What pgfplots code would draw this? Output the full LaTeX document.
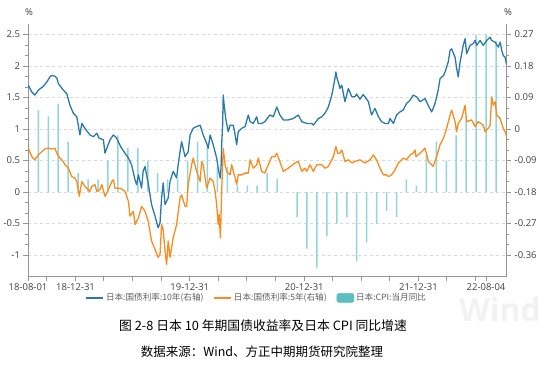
\documentclass[border=0pt]{standalone}
\usepackage{pgfplots}
\pgfplotsset{compat=1.18}
\usepackage{fontspec}
\setmainfont{Open Sans}
\newfontfamily\cjk{Noto Sans CJK SC}
\definecolor{jblue}{RGB}{41,121,171}
\definecolor{jorange}{RGB}{250,140,30}
\definecolor{jteal}{RGB}{145,213,216}
\definecolor{jtealleg}{RGB}{92,191,194}
\definecolor{axgray}{RGB}{150,150,150}
\definecolor{txtgray}{RGB}{64,64,64}
\pgfplotsset{
  base/.style={scale only axis, width=478.7pt, height=252pt, at={(0pt,0pt)}, anchor=south west,
    xmin=0, xmax=1530,
    tick align=outside, major tick length=4.5pt, minor tick length=2.5pt,
    every tick/.style={axgray, line width=0.6pt},
    axis line style={axgray, line width=0.8pt},
    ticklabel style={font=\fontsize{9.5}{10}\selectfont, text=txtgray},
    /pgf/number format/assume math mode=true,
  }
}
\begin{document}
\begin{tikzpicture}
\useasboundingbox (-28pt,-94pt) rectangle (518pt,276pt);
\node[text=gray!10, font=\fontsize{32}{32}\selectfont\bfseries, inner sep=0pt] at (472pt,-33pt) {Wind};
% left axis: CPI bars
\begin{axis}[base,
  axis x line*=bottom, axis y line*=left,
  ymin=-1.3333333, ymax=2.6666667,
  ytick={-1,-0.5,0,0.5,1,1.5,2,2.5},
  minor y tick num=2,
  ymajorgrids, grid style={gray!30, dash pattern=on 3pt off 3pt, line width=0.5pt},
  xtick={0,152,517,883,1248,1464},
  xticklabels={18-08-01,18-12-31,19-12-31,20-12-31,21-12-31,22-08-04},
  extra x ticks={60,242,333,425,608,699,791,973,1064,1156,1338,1429},
  extra x tick labels={},
  yticklabel style={/pgf/number format/fixed},
]
\addplot[ybar, bar width=1.5pt, bar shift=0pt, fill=jteal, draw=none] coordinates {
(33,1.3)(64.8,1.2)(96.6,1.4)(128.4,0.8)(160.2,0.3)(192,0.2)(223.8,0.2)(255.6,0.5)
(287.4,0.9)(319.2,0.7)(351,0.7)(382.8,0.5)(414.6,0.3)(446.4,0.2)(478.2,0.2)(510,0.5)
(541.8,0.8)(573.6,0.7)(605.4,0.4)(637.2,0.4)(669,0.1)(700.8,0.1)(732.6,0.1)(764.4,0.3)
(796.2,0.2)(828,0.0)(859.8,-0.4)(891.6,-0.9)(923.4,-1.2)(955.2,-0.7)(987,-0.5)(1018.8,-0.4)
(1050.6,-1.1)(1082.4,-0.8)(1114.2,-0.5)(1146,-0.3)(1177.8,-0.4)(1209.6,0.2)(1241.4,0.1)(1273.2,0.6)
(1305,0.8)(1336.8,0.5)(1368.6,0.9)(1400.4,1.2)(1432.2,2.5)(1464,2.5)(1495.8,2.4)
};
\end{axis}
% right axis: yields
\begin{axis}[base,
  axis x line=none, axis y line*=right,
  ymin=-0.42, ymax=0.30,
  ytick={-0.36,-0.27,-0.18,-0.09,0,0.09,0.18,0.27},
  minor y tick num=2,
  yticklabel style={/pgf/number format/.cd, fixed, precision=2},
  legend style={at={(0.478,-0.087)}, anchor=center, draw=none, fill=none,
    legend columns=3, font=\cjk\fontsize{8.6}{10}\selectfont, text=txtgray!85,
    /tikz/every even column/.append style={column sep=8pt}},
  legend cell align=left,
]
\addplot[jblue, line width=1.3pt, line join=round, no marks] coordinates {
(1,0.125)(12,0.106)(22,0.097)(33,0.111)(49,0.122)(60,0.134)(70,0.149)(76,0.153)(86,0.151)(92,0.146)(97,0.130)(113,0.111)(124,0.101)(134,0.068)(145,0.045)(156,0.035)(166,-0.017)(172,0.016)(182,0.002)(198,-0.017)(209,-0.022)(220,-0.012)(227,-0.026)(241,-0.031)(246,-0.069)(262,-0.031)(273,-0.017)(283,-0.026)(299,-0.055)(310,-0.069)(321,-0.083)(331,-0.102)(342,-0.145)(347,-0.159)(353,-0.131)(363,-0.169)(368,-0.121)(374,-0.107)(384,-0.154)(395,-0.216)(406,-0.249)(416,-0.282)(422,-0.268)(427,-0.197)(432,-0.154)(438,-0.216)(448,-0.197)(454,-0.150)(464,-0.121)(475,-0.140)(480,-0.102)(486,-0.065)(491,-0.036)(502,-0.079)(512,-0.065)(518,-0.017)(528,0.002)(539,0.007)(550,0.011)(560,-0.017)(571,-0.041)(576,-0.055)(582,-0.017)(592,-0.045)(603,-0.083)(608,-0.112)(614,-0.140)(617,-0.112)(619,-0.045)(622,0.011)(624,0.097)(627,0.068)(632,0.030)(640,-0.008)(646,0.011)(656,0.011)(662,-0.017)(667,-0.045)(672,-0.008)(683,0.002)(694,0.007)(704,0.040)(710,0.021)(720,0.016)(731,0.035)(736,0.016)(747,0.016)(757,0.021)(773,0.040)(784,0.035)(795,0.063)(805,0.040)(816,0.026)(832,0.026)(848,0.030)(864,0.040)(875,0.021)(891,0.016)(907,0.016)(912,0.011)(928,0.030)(939,0.035)(949,0.045)(960,0.063)(971,0.097)(976,0.120)(981,0.144)(984,0.163)(988,0.144)(992,0.134)(997,0.116)(1003,0.125)(1013,0.078)(1024,0.116)(1035,0.092)(1045,0.092)(1050,0.100)(1056,0.092)(1061,0.085)(1066,0.092)(1071,0.098)(1077,0.092)(1088,0.078)(1098,0.040)(1109,0.059)(1120,0.035)(1130,0.021)(1141,0.016)(1152,0.016)(1157,0.030)(1168,0.016)(1178,0.040)(1189,0.049)(1199,0.054)(1210,0.073)(1221,0.082)(1231,0.097)(1242,0.092)(1253,0.078)(1269,0.087)(1279,0.068)(1290,0.049)(1295,0.059)(1301,0.073)(1311,0.111)(1317,0.144)(1328,0.153)(1333,0.163)(1343,0.191)(1349,0.225)(1354,0.229)(1365,0.205)(1370,0.173)(1375,0.149)(1381,0.191)(1391,0.239)(1397,0.258)(1402,0.215)(1413,0.239)(1423,0.244)(1429,0.253)(1434,0.239)(1445,0.253)(1455,0.239)(1466,0.253)(1477,0.262)(1482,0.253)(1493,0.248)(1503,0.234)(1509,0.248)(1514,0.225)(1519,0.210)(1525,0.205)(1530,0.182)
};
\addlegendentry{日本:国债利率:10年(右轴)}
\addplot[jorange, line width=1.3pt, line join=round, no marks] coordinates {
(1,-0.055)(12,-0.079)(22,-0.088)(33,-0.074)(44,-0.065)(54,-0.057)(65,-0.055)(76,-0.057)(86,-0.055)(92,-0.069)(102,-0.083)(113,-0.093)(118,-0.102)(129,-0.112)(140,-0.136)(150,-0.140)(156,-0.150)(164,-0.192)(172,-0.150)(182,-0.164)(198,-0.178)(204,-0.164)(214,-0.159)(220,-0.178)(230,-0.173)(236,-0.159)(246,-0.192)(257,-0.173)(268,-0.150)(273,-0.145)(278,-0.169)(294,-0.169)(310,-0.178)(321,-0.207)(326,-0.249)(337,-0.235)(342,-0.273)(353,-0.254)(363,-0.221)(374,-0.235)(384,-0.263)(395,-0.320)(406,-0.344)(416,-0.367)(422,-0.358)(427,-0.273)(432,-0.287)(438,-0.349)(443,-0.387)(448,-0.320)(454,-0.367)(464,-0.311)(475,-0.273)(486,-0.197)(491,-0.188)(502,-0.221)(507,-0.221)(512,-0.159)(523,-0.102)(528,-0.083)(539,-0.121)(550,-0.150)(555,-0.093)(560,-0.102)(571,-0.169)(582,-0.140)(592,-0.150)(598,-0.178)(603,-0.216)(608,-0.273)(611,-0.244)(615,-0.311)(619,-0.178)(622,-0.102)(624,-0.055)(630,-0.102)(635,-0.121)(646,-0.131)(651,-0.102)(662,-0.140)(667,-0.159)(672,-0.131)(683,-0.131)(694,-0.126)(704,-0.126)(710,-0.088)(720,-0.112)(731,-0.102)(736,-0.083)(747,-0.121)(757,-0.126)(768,-0.102)(779,-0.079)(789,-0.079)(795,-0.069)(805,-0.093)(816,-0.121)(832,-0.112)(853,-0.097)(864,-0.093)(875,-0.121)(885,-0.112)(891,-0.121)(901,-0.102)(912,-0.121)(923,-0.102)(939,-0.102)(949,-0.112)(960,-0.107)(971,-0.088)(976,-0.079)(984,-0.050)(990,-0.069)(997,-0.069)(1003,-0.060)(1013,-0.093)(1024,-0.088)(1035,-0.097)(1045,-0.093)(1061,-0.088)(1077,-0.097)(1093,-0.088)(1104,-0.074)(1114,-0.088)(1125,-0.112)(1136,-0.131)(1146,-0.131)(1152,-0.136)(1162,-0.131)(1173,-0.117)(1184,-0.097)(1199,-0.083)(1210,-0.088)(1221,-0.074)(1231,-0.069)(1237,-0.060)(1240,-0.079)(1253,-0.069)(1269,-0.055)(1280,-0.093)(1290,-0.102)(1295,-0.107)(1306,-0.079)(1317,-0.045)(1328,-0.026)(1338,0.002)(1349,0.040)(1354,0.054)(1365,0.021)(1370,-0.008)(1375,0.016)(1386,0.030)(1397,0.068)(1402,0.021)(1418,0.026)(1429,0.007)(1439,0.021)(1455,0.011)(1461,-0.008)(1471,0.002)(1477,0.011)(1482,0.092)(1487,0.068)(1493,0.078)(1498,0.040)(1509,0.030)(1519,0.002)(1525,-0.008)(1530,-0.022)
};
\addlegendentry{日本:国债利率:5年(右轴)}
\addlegendimage{legend image code/.code={\fill[jtealleg, rounded corners=2pt] (0pt,-4.5pt) rectangle (17pt,4.5pt);}}
\addlegendentry{日本:CPI:当月同比}
\end{axis}
\node[font=\fontsize{9.5}{10}\selectfont, text=txtgray] at (1pt,264pt) {\%};
\node[font=\fontsize{9.5}{10}\selectfont, text=txtgray] at (480pt,264pt) {\%};
\node[font=\cjk\fontsize{12.8}{14}\selectfont] at (235pt,-50pt) {图 2-8 日本 10 年期国债收益率及日本 CPI 同比增速};
\node[font=\cjk\fontsize{12.5}{14}\selectfont] at (234pt,-76pt) {数据来源：Wind、方正中期期货研究院整理};
\end{tikzpicture}
\end{document}
